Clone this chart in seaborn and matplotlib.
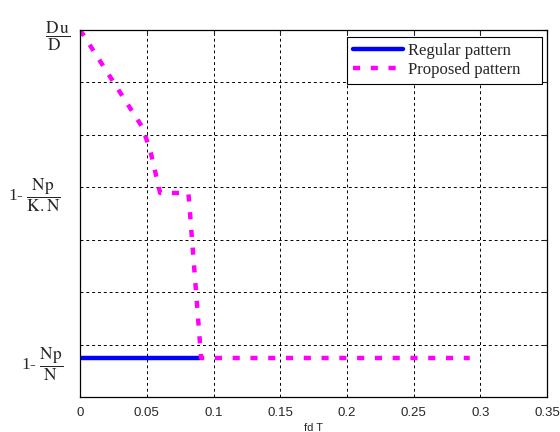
import numpy as np
import pandas as pd
import matplotlib
matplotlib.use('Agg')
import matplotlib.pyplot as plt
import seaborn as sns

# данные (ось Y в условных единицах 0..7)
regular_x = [0.0, 0.09]
regular_y = [0.744, 0.744]

proposed_x = [0.0, 0.0465, 0.0525, 0.060, 0.081, 0.0815, 0.0907, 0.292]
proposed_y = [7.0, 5.15, 4.71, 3.89, 3.89, 3.80, 0.744, 0.744]

x_ticks = [0, 0.05, 0.1, 0.15, 0.2, 0.25, 0.3, 0.35]
x_tick_labels = ['0', '0.05', '0.1', '0.15', '0.2', '0.25', '0.3', '0.35']
y_label_pos = [0.744, 3.97, 7.0]
y_label_text = [r'1- $\dfrac{\mathrm{Np}}{\mathrm{N}}$',
                r'1- $\dfrac{\mathrm{Np}}{\mathrm{K.N}}$',
                r'$\dfrac{\mathrm{D\,u}}{\mathrm{D}\;\;}$']

sns.set_style('white')
plt.rcParams['font.family'] = ['Liberation Sans', 'DejaVu Sans']
plt.rcParams['mathtext.fontset'] = 'stix'

df_reg = pd.DataFrame({'x': regular_x, 'y': regular_y})
df_prop = pd.DataFrame({'x': proposed_x, 'y': proposed_y})

fig = plt.figure(figsize=(5.6, 4.32), dpi=100)
ax = fig.add_axes([0.143, 0.081, 0.834, 0.850])

sns.lineplot(data=df_reg, x='x', y='y', ax=ax, color='#0000FF', linewidth=3.2,
             label='Regular pattern', sort=False, estimator=None)
sns.lineplot(data=df_prop, x='x', y='y', ax=ax, color='#FF00FF', linewidth=3.2,
             label='Proposed pattern', sort=False, estimator=None)
ax.lines[1].set_dashes((1.6, 2.4))

ax.set_xlim(0, 0.35)
ax.set_ylim(0, 7)
ax.set_xticks(x_ticks)
ax.set_xticklabels(x_tick_labels, fontsize=9.5)
ax.yaxis.remove_overlapping_locs = False
ax.set_yticks([1, 2, 3, 4, 5, 6, 7])
ax.set_yticklabels([])
ax.set_yticks(y_label_pos, minor=True)
ax.set_yticklabels(y_label_text, minor=True, fontsize=12.5, fontfamily='Liberation Serif')
ax.tick_params(axis='y', which='minor', length=0, pad=14)
ax.tick_params(which='major', direction='in', length=3, top=True, right=True, width=0.8)
ax.tick_params(axis='x', which='major', pad=7)
ax.grid(True, which='major', linestyle=(0, (3, 3)), color='black', linewidth=0.7)
for s in ax.spines.values():
    s.set_color('black')
    s.set_linewidth(0.9)

# Du/D ближе к оси
mt = ax.yaxis.get_minor_ticks()
mt[0].set_pad(12)
mt[2].set_pad(7)

ax.set_xlabel('fd T', fontsize=8, labelpad=3)
ax.set_ylabel('')

leg = ax.legend(loc='upper left', bbox_to_anchor=(0.572, 0.0, 0.417, 0.981), mode='expand',
                handlelength=3.0, borderaxespad=0.0,
                fancybox=False, framealpha=1, edgecolor='black',
                prop={'family': 'Liberation Serif', 'size': 12},
                labelspacing=0.2, borderpad=0.35, handletextpad=0.3)
leg.get_frame().set_linewidth(0.8)

fig.savefig('out.png', dpi=100)
